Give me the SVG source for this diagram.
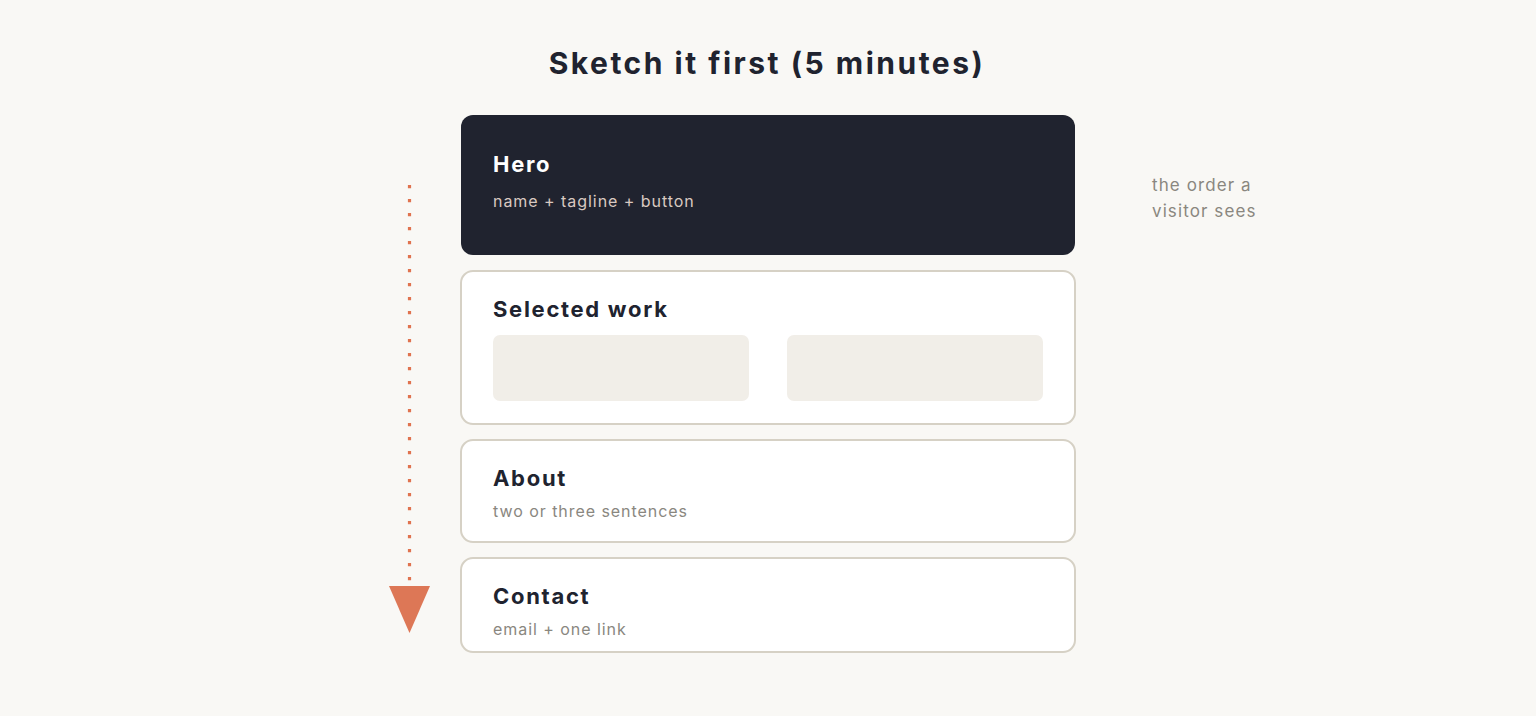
<svg xmlns="http://www.w3.org/2000/svg" width="1536" height="716" viewBox="0 0 1536 716">
<style>
.title{font-family:Inter,"Liberation Sans",sans-serif;font-weight:700;font-size:30px;fill:#20232f;letter-spacing:2.5px}
.h{font-family:Inter,"Liberation Sans",sans-serif;font-weight:700;font-size:22px;fill:#20232f;letter-spacing:1.7px}
.s{font-family:Inter,"Liberation Sans",sans-serif;font-size:16px;fill:#8a877f;letter-spacing:0.95px}
.card{fill:#ffffff;stroke:#d6d1c5;stroke-width:2}
.ph{fill:#f1eee8}
.note{font-family:Inter,"Liberation Sans",sans-serif;font-size:17px;fill:#8a877f;letter-spacing:1.1px}
</style>
<rect width="1536" height="716" fill="#f9f8f5"/>
<text class="title" x="767" y="74" text-anchor="middle">Sketch it first (5 minutes)</text>
<g id="hero">
<rect x="461" y="115" width="614" height="140" rx="12" fill="#20232f"/>
<text class="h" x="493" y="172" style="fill:#ffffff">Hero</text>
<text class="s" x="493" y="207" style="fill:#d9c9c1">name + tagline + button</text>
</g>
<g id="work">
<rect class="card" x="461" y="271" width="614" height="153" rx="12"/>
<text class="h" x="493" y="317">Selected work</text>
<rect class="ph" x="493" y="335" width="256" height="66" rx="7"/>
<rect class="ph" x="787" y="335" width="256" height="66" rx="7"/>
</g>
<g id="about">
<rect class="card" x="461" y="440" width="614" height="102" rx="12"/>
<text class="h" x="493" y="486">About</text>
<text class="s" x="493" y="517">two or three sentences</text>
</g>
<g id="contact">
<rect class="card" x="461" y="558" width="614" height="94" rx="12"/>
<text class="h" x="493" y="604">Contact</text>
<text class="s" x="493" y="635">email + one link</text>
</g>
<g id="connectors">
<line x1="409.5" y1="185" x2="409.5" y2="584" stroke="#e0734f" stroke-width="3.2" stroke-dasharray="3.2 10.8"/>
<polygon points="389,586 430,586 409.5,633" fill="#dd7756"/>
</g>
<g id="note">
<text class="note" x="1152" y="191">the order a</text>
<text class="note" x="1152" y="217">visitor sees</text>
</g>
</svg>
